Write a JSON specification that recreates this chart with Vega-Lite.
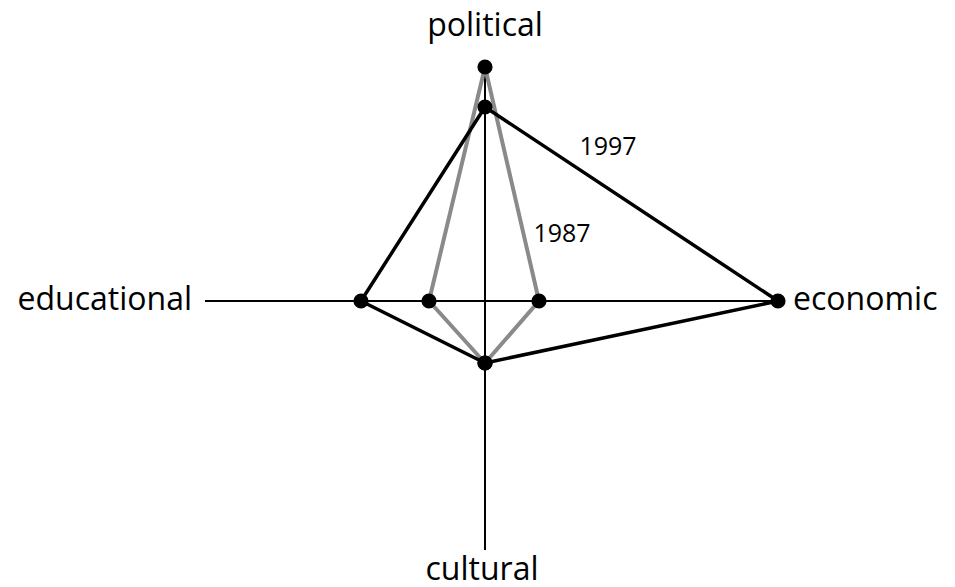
{
  "$schema": "https://vega.github.io/schema/vega-lite/v6.json",
  "width": 955,
  "height": 587,
  "autosize": {"type": "fit", "contains": "padding"},
  "padding": 0,
  "background": "white",
  "config": {"view": {"stroke": null}},
  "datasets": {
    "axes": [
      {"axis": "horizontal", "x1": -280, "x2": 293, "y1": 0, "y2": 0},
      {"axis": "vertical", "x1": 0, "x2": 0, "y1": 234, "y2": -249}
    ],
    "points": [
      {"year": "1987", "dimension": "political", "order": 1, "x": 0, "y": 234},
      {"year": "1987", "dimension": "economic", "order": 2, "x": 54, "y": 0},
      {"year": "1987", "dimension": "cultural", "order": 3, "x": 0, "y": -62},
      {"year": "1987", "dimension": "educational", "order": 4, "x": -56, "y": 0},
      {"year": "1987", "dimension": "political", "order": 5, "x": 0, "y": 234},
      {"year": "1997", "dimension": "political", "order": 1, "x": 0, "y": 194},
      {"year": "1997", "dimension": "economic", "order": 2, "x": 293, "y": 0},
      {"year": "1997", "dimension": "cultural", "order": 3, "x": 0, "y": -62},
      {"year": "1997", "dimension": "educational", "order": 4, "x": -124, "y": 0},
      {"year": "1997", "dimension": "political", "order": 5, "x": 0, "y": 194}
    ],
    "axisLabels": [
      {"label": "political", "x": 0, "y": 265, "align": "center"},
      {"label": "economic", "x": 308, "y": -9, "align": "left"},
      {"label": "cultural", "x": -3, "y": -279, "align": "center"},
      {"label": "educational", "x": -293, "y": -9, "align": "right"}
    ],
    "yearLabels": [
      {"label": "1997", "x": 123, "y": 154},
      {"label": "1987", "x": 77, "y": 67}
    ]
  },
  "layer": [
    {
      "data": {"name": "axes"},
      "mark": {"type": "rule", "color": "black", "strokeWidth": 2},
      "encoding": {
        "x": {"field": "x1", "type": "quantitative", "scale": {"domain": [-485, 470], "nice": false, "zero": false}, "axis": null},
        "x2": {"field": "x2"},
        "y": {"field": "y1", "type": "quantitative", "scale": {"domain": [-286, 301], "nice": false, "zero": false}, "axis": null},
        "y2": {"field": "y2"}
      }
    },
    {
      "data": {"name": "points"},
      "transform": [{"filter": "datum.year === '1987'"}],
      "mark": {"type": "line", "color": "#8a8a8a", "strokeWidth": 4, "strokeJoin": "round"},
      "encoding": {
        "x": {"field": "x", "type": "quantitative", "scale": {"domain": [-485, 470], "nice": false, "zero": false}, "axis": null},
        "y": {"field": "y", "type": "quantitative", "scale": {"domain": [-286, 301], "nice": false, "zero": false}, "axis": null},
        "order": {"field": "order", "type": "quantitative"}
      }
    },
    {
      "data": {"name": "points"},
      "transform": [{"filter": "datum.year === '1997'"}],
      "mark": {"type": "line", "color": "black", "strokeWidth": 3.5, "strokeJoin": "round"},
      "encoding": {
        "x": {"field": "x", "type": "quantitative", "scale": {"domain": [-485, 470], "nice": false, "zero": false}, "axis": null},
        "y": {"field": "y", "type": "quantitative", "scale": {"domain": [-286, 301], "nice": false, "zero": false}, "axis": null},
        "order": {"field": "order", "type": "quantitative"}
      }
    },
    {
      "data": {"name": "points"},
      "transform": [{"filter": "datum.order < 5"}],
      "mark": {"type": "point", "shape": "circle", "filled": true, "color": "black", "opacity": 1, "size": 230},
      "encoding": {
        "x": {"field": "x", "type": "quantitative", "scale": {"domain": [-485, 470], "nice": false, "zero": false}, "axis": null},
        "y": {"field": "y", "type": "quantitative", "scale": {"domain": [-286, 301], "nice": false, "zero": false}, "axis": null}
      }
    },
    {
      "data": {"name": "axisLabels"},
      "transform": [{"filter": "datum.align === 'center'"}],
      "mark": {"type": "text", "font": "Open Sans", "fontSize": 32, "color": "black", "baseline": "alphabetic", "align": "center"},
      "encoding": {
        "x": {"field": "x", "type": "quantitative", "scale": {"domain": [-485, 470], "nice": false, "zero": false}, "axis": null},
        "y": {"field": "y", "type": "quantitative", "scale": {"domain": [-286, 301], "nice": false, "zero": false}, "axis": null},
        "text": {"field": "label"}
      }
    },
    {
      "data": {"name": "axisLabels"},
      "transform": [{"filter": "datum.align === 'left'"}],
      "mark": {"type": "text", "font": "Open Sans", "fontSize": 32, "color": "black", "baseline": "alphabetic", "align": "left"},
      "encoding": {
        "x": {"field": "x", "type": "quantitative", "scale": {"domain": [-485, 470], "nice": false, "zero": false}, "axis": null},
        "y": {"field": "y", "type": "quantitative", "scale": {"domain": [-286, 301], "nice": false, "zero": false}, "axis": null},
        "text": {"field": "label"}
      }
    },
    {
      "data": {"name": "axisLabels"},
      "transform": [{"filter": "datum.align === 'right'"}],
      "mark": {"type": "text", "font": "Open Sans", "fontSize": 32, "color": "black", "baseline": "alphabetic", "align": "right"},
      "encoding": {
        "x": {"field": "x", "type": "quantitative", "scale": {"domain": [-485, 470], "nice": false, "zero": false}, "axis": null},
        "y": {"field": "y", "type": "quantitative", "scale": {"domain": [-286, 301], "nice": false, "zero": false}, "axis": null},
        "text": {"field": "label"}
      }
    },
    {
      "data": {"name": "yearLabels"},
      "mark": {"type": "text", "font": "Open Sans", "fontSize": 25, "color": "black", "baseline": "middle", "align": "center"},
      "encoding": {
        "x": {"field": "x", "type": "quantitative", "scale": {"domain": [-485, 470], "nice": false, "zero": false}, "axis": null},
        "y": {"field": "y", "type": "quantitative", "scale": {"domain": [-286, 301], "nice": false, "zero": false}, "axis": null},
        "text": {"field": "label"}
      }
    }
  ]
}
